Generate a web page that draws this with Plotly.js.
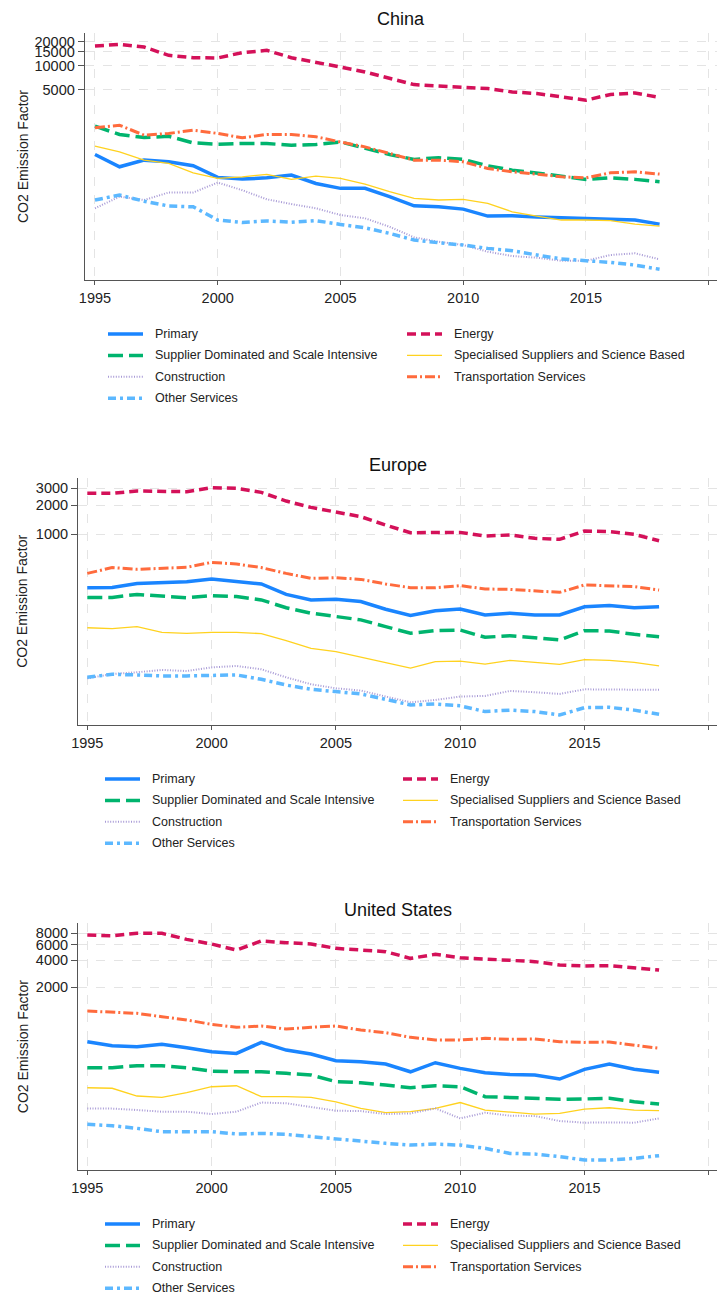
<!DOCTYPE html>
<html><head><meta charset="utf-8">
<script src="https://cdn.plot.ly/plotly-3.0.1.min.js"></script>
<style>html,body{margin:0;padding:0;background:#fff}#chart{width:724px;height:1298px}</style>
</head><body><div id="chart"></div>
<script>
const years = [1995,1996,1997,1998,1999,2000,2001,2002,2003,2004,2005,2006,2007,2008,2009,2010,2011,2012,2013,2014,2015,2016,2017,2018];
const sectors = ["Primary","Energy","Supplier Dominated and Scale Intensive","Specialised Suppliers and Science Based","Construction","Transportation Services","Other Services"];
const regions = ["China","Europe","United States"];
const xTicks = [1995,2000,2005,2010,2015,2020];
const chinaTicks = [5000,10000,15000,20000];
const europeTicks = [1000,2000,3000];
const usTicks = [2000,4000,6000,8000];

// China
const chinaPrimary = [773,541,656,625,557,398,379,393,426,334,290,290,228,175,170,159,130,131,127,124,119,116,116,103];
const chinaEnergy = [17800,18700,17300,13600,12700,12600,14700,15700,12700,11200,9700,8400,7070,5830,5610,5350,5200,4720,4500,4090,3720,4380,4580,4020];
const chinaSupplier = [1750,1380,1260,1310,1080,1040,1060,1060,1010,1030,1110,918,773,670,702,670,557,491,454,413,376,393,376,351];
const chinaSpecialised = [982,833,656,596,454,387,405,434,376,413,387,328,263,217,207,211,188,147,130,116,116,114,103,97.5];
const chinaConstruction = [163,228,207,257,257,343,275,211,184,163,134,122,95.5,70.3,61.9,56.3,46.4,40.9,39,35.7,35.7,42.2,44.3,37.2];
const chinaTransport = [1670,1800,1350,1420,1560,1420,1250,1380,1380,1290,1110,963,796,656,656,625,516,468,438,405,393,454,468,438];
const chinaOther = [207,239,200,174,170,116,108,113,109,114,102,92.7,78.8,65,60.1,56.3,51.1,47.7,42.2,37.6,35.7,34.1,31.5,27.9];

// Europe
const europePrimary = [275,276,305,310,318,339,318,301,234,205,208,197,164,141,158,165,143,149,143,143,174,179,170,174];
const europeEnergy = [2657,2657,2812,2767,2767,3048,3000,2723,2210,1897,1709,1517,1241,1032,1040,1040,953,977,902,880,1075,1058,992,852];
const europeSupplier = [218,218,234,225,216,227,222,205,170,149,139,127,108,91.9,98,99.5,83.5,86.8,82.8,78.3,98,97.1,89.7,84.8];
const europeSpecialised = [105,103,108,94.2,91.9,94.2,94.2,91.2,77.1,64.1,59.2,51.6,45.4,39.9,46.5,47.2,43.9,48,45.7,43.6,48.8,48,45.7,41.9];
const europeConstruction = [31.1,34.6,36,38.1,37.1,40.5,41.9,38.7,31.9,27,24.5,23.2,20.1,17.5,18.5,20.1,20.4,23,22.3,21.4,23.9,23.9,23.6,23.6];
const europeTransport = [388,446,428,435,449,506,486,446,388,344,350,336,301,275,275,289,267,264,256,246,294,289,282,260];
const europeOther = [31.9,34.3,33.8,33,33,33.2,33.8,30.4,26.5,23.9,22.6,21.4,18.8,16.4,16.8,16.1,14,14.5,14,12.9,15.4,15.5,14.5,13.1];

// United States
const usPrimary = [496,448,436,463,425,384,367,487,400,361,304,297,279,229,289,250,224,214,211,190,244,279,244,226];
const usEnergy = [7660,7530,8000,8000,6850,6080,5210,6570,6300,6080,5440,5210,5000,4210,4670,4280,4140,4030,3870,3550,3460,3490,3310,3120];
const usSupplier = [254,254,268,268,254,233,229,229,220,211,178,173,163,152,160,156,121,119,116,113,114,116,106,100];
const usSpecialised = [152,150,123,119,134,156,160,121,121,119,106,89.5,80.1,82.2,89.5,104,85.8,82.2,77.4,78.7,87.9,91,85.8,84.3];
const usConstruction = [89.5,89,85.8,82.2,82.2,77.4,82.2,104,102,91.9,84.3,83.5,77.4,78.7,89.5,69.2,80.1,74.2,73.6,64.7,62,62.5,62,69.2];
const usTransport = [1089,1052,1026,942,865,774,717,741,687,717,741,669,625,554,518,518,540,526,531,496,487,492,455,418];
const usOther = [59.4,57.4,53.6,49.2,49.2,49.2,46.4,47.1,45.9,43.2,40.4,38,36.5,34.9,35.8,34.9,32.1,28.2,27.7,25.9,23.8,23.8,24.8,26.6];

const W = 724, H = 1298;
const fx = p => p / W;
const fy = p => 1 - p / H;

const regionData = [
  [chinaPrimary, chinaEnergy, chinaSupplier, chinaSpecialised, chinaConstruction, chinaTransport, chinaOther],
  [europePrimary, europeEnergy, europeSupplier, europeSpecialised, europeConstruction, europeTransport, europeOther],
  [usPrimary, usEnergy, usSupplier, usSpecialised, usConstruction, usTransport, usOther]
];
const regionTicks = [chinaTicks, europeTicks, usTicks];

const lineStyles = [
  {color:'#1A85FF', width:3.5, dash:'solid'},
  {color:'#D41159', width:3.5, dash:'9px,5px'},
  {color:'#00B46E', width:3.5, dash:'15px,6px'},
  {color:'#FFD21F', width:1.3, dash:'solid'},
  {color:'#A89AD6', width:2, dash:'1px,1.6px'},
  {color:'#FF6B3D', width:3, dash:'10px,3px,2px,3px'},
  {color:'#5CB8FF', width:3.5, dash:'8px,4px,3px,4px'}
];

// panel geometry (pixels)
const panels = [
  {left:85,   right:717, top:33,    bottom:280,  yr:[1.311,4.414], xr:[1994.593,2020.34], titleY:19,  legRow0:334,  col1:108, col2:407},
  {left:78.3, right:717, top:477.7, bottom:725,  yr:[1.006,3.588], xr:[1994.638,2020.33], titleY:465, legRow0:779,  col1:105, col2:403},
  {left:78.3, right:717, top:923.3, bottom:1170, yr:[1.265,4.015], xr:[1994.638,2020.33], titleY:910, legRow0:1224, col1:105, col2:403}
];
const legRowGap = 21.4;
const legSample = 35, legTextGap = 10;

const axisFont = {family:'"Liberation Sans Narrow", "Arial Narrow", "Liberation Sans", Arial, sans-serif', size:14.5, color:'#222'};
const legFont = {family:'"Liberation Sans", Arial, sans-serif', size:12.5, color:'#222'};
const traces = [];
const layout = {
  width: W, height: H,
  margin:{l:0,r:0,t:0,b:0},
  paper_bgcolor:'#ffffff', plot_bgcolor:'#ffffff',
  showlegend:false,
  annotations:[], shapes:[]
};

panels.forEach((p, i) => {
  const sfx = i === 0 ? '' : String(i + 1);
  regionData[i].forEach((vals, j) => {
    traces.push({
      x: years, y: vals, type:'scatter', mode:'lines',
      name: sectors[j],
      xaxis:'x' + sfx, yaxis:'y' + sfx,
      showlegend:false,
      line:{color:lineStyles[j].color, width:lineStyles[j].width, dash:lineStyles[j].dash},
      hoverinfo:'skip'
    });
    // legend entry (row-major, two columns)
    const row = Math.floor(j / 2), col = j % 2;
    const sx = col === 0 ? p.col1 : p.col2;
    const sy = p.legRow0 + row * legRowGap;
    layout.shapes.push({
      type:'line', xref:'paper', yref:'paper',
      x0:fx(sx), x1:fx(sx + legSample), y0:fy(sy), y1:fy(sy),
      line:{color:lineStyles[j].color, width:lineStyles[j].width, dash:lineStyles[j].dash}
    });
    layout.annotations.push({
      text:sectors[j], xref:'paper', yref:'paper',
      x:fx(sx + legSample + legTextGap), y:fy(sy), xanchor:'left', yanchor:'middle',
      showarrow:false, font:legFont
    });
  });
  layout['xaxis' + sfx] = {
    domain:[fx(p.left), fx(p.right)], anchor:'y' + sfx,
    range:p.xr, tickmode:'array', tickvals:xTicks, ticktext:xTicks.map(String),
    showgrid:true, gridcolor:'#e4e4e4', griddash:'dash', gridwidth:1,
    showline:true, linecolor:'#555', linewidth:1.3,
    ticks:'outside', ticklen:4, tickcolor:'#555', tickwidth:1,
    zeroline:false, tickfont:axisFont, fixedrange:true
  };
  layout['yaxis' + sfx] = {
    domain:[fy(p.bottom), fy(p.top)], anchor:'x' + sfx,
    type:'log', range:p.yr, tickmode:'array', tickvals:regionTicks[i], ticktext:regionTicks[i].map(String),
    showgrid:true, gridcolor:'#e4e4e4', griddash:'dash', gridwidth:1,
    showline:true, linecolor:'#555', linewidth:1.3,
    ticks:'outside', ticklen:6, tickcolor:'#555', tickwidth:1,
    zeroline:false, tickfont:axisFont, fixedrange:true
  };
  layout.annotations.push({
    text: regions[i], xref:'paper', yref:'paper',
    x: fx((p.left + p.right) / 2), y: fy(p.titleY), xanchor:'center', yanchor:'middle',
    showarrow:false, font:{family:'"Liberation Sans", Arial, sans-serif', size:18, color:'#111'}
  });
  layout.annotations.push({
    text:'CO2 Emission Factor', xref:'paper', yref:'paper',
    x: fx(22.5), y: fy((p.top + p.bottom) / 2), xanchor:'center', yanchor:'middle',
    textangle:-90, showarrow:false,
    font:{family:'"Liberation Sans Narrow", "Arial Narrow", "Liberation Sans", Arial, sans-serif', size:14, color:'#222'}
  });
});

Plotly.newPlot('chart', traces, layout, {staticPlot:true, displayModeBar:false});
</script>
</body></html>
